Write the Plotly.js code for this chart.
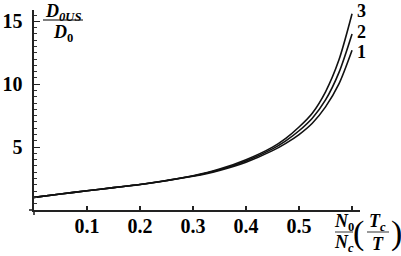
<!DOCTYPE html>
<html><head><meta charset="utf-8">
<script src="https://cdn.plot.ly/plotly-3.0.1.min.js"></script>
<style>html,body{margin:0;padding:0;background:#fff;}#chart{width:401px;height:256px;}</style>
</head><body><div id="chart"></div>
<script>
// Data
var xVals = [0, 0.05, 0.1, 0.15, 0.2, 0.25, 0.3, 0.35, 0.4, 0.45, 0.475, 0.5, 0.525, 0.55, 0.575, 0.6];
var curve1 = [1.0, 1.27, 1.53, 1.78, 2.03, 2.33, 2.68, 3.15, 3.8, 4.72, 5.3, 6.0, 6.9, 8.2, 10.0, 12.7];
var curve2 = [1.0, 1.27, 1.53, 1.78, 2.03, 2.34, 2.7, 3.2, 3.9, 4.86, 5.5, 6.3, 7.3, 8.75, 10.9, 14.0];
var curve3 = [1.0, 1.27, 1.53, 1.78, 2.03, 2.35, 2.72, 3.25, 4.0, 5.0, 5.7, 6.6, 7.7, 9.4, 11.9, 15.6];
var curveNames = ['1', '2', '3'];
var xTicks = [0.1, 0.2, 0.3, 0.4, 0.5, 0.6];
var xTickText = ['0.1', '0.2', '0.3', '0.4', '0.5', ''];
var yTicks = [5, 10, 15];
var yTickText = ['5', '10', '15'];

var W = 401, H = 256, L = 34, R = 41, T = 10, B = 46;
var pw = W - L - R, ph = H - T - B;
function px(x) { return (x - L) / pw; }
function py(y) { return (H - B - y) / ph; }

var serif = 'Liberation Serif';
var line = {color: '#111', width: 1.6, shape: 'spline', smoothing: 0.8};
var traces = [curve1, curve2, curve3].map(function (c, i) {
  return {x: xVals, y: c, mode: 'lines', line: line, name: curveNames[i], hoverinfo: 'skip'};
});

var annotations = [
  {text: '<b>3</b>', x: px(361), y: py(11)},
  {text: '<b>2</b>', x: px(361), y: py(32)},
  {text: '<b>1</b>', x: px(361), y: py(52)},
  {text: '<b><i>D</i><sub><i>0US</i></sub></b>', x: px(63), y: py(12)},
  {text: '<b><i>D</i><sub>0</sub></b>', x: px(63), y: py(33)},
  {text: '<b><i>N</i><sub>0</sub></b>', x: px(344), y: py(222)},
  {text: '<b><i>N</i><sub><i>c</i></sub></b>', x: px(344), y: py(243)},
  {text: '<b><i>T</i><sub><i>c</i></sub></b>', x: px(378), y: py(222)},
  {text: '<b><i>T</i></b>', x: px(378), y: py(244)},
  {text: '(', x: px(358), y: py(233), size: 34},
  {text: ')', x: px(396), y: py(233), size: 34}
].map(function (a) {
  return {text: a.text, x: a.x, y: a.y, xref: 'paper', yref: 'paper', showarrow: false,
    xanchor: 'center', yanchor: 'middle',
    font: {family: serif, size: a.size || 18, color: '#000'}};
});

var shapes = [
  {type: 'line', xref: 'paper', yref: 'paper', x0: px(43), x1: px(83), y0: py(20), y1: py(20), line: {color: '#555', width: 1.5}},
  {type: 'line', xref: 'paper', yref: 'paper', x0: px(335), x1: px(353), y0: py(232), y1: py(232), line: {color: '#555', width: 1.2}},
  {type: 'line', xref: 'paper', yref: 'paper', x0: px(367), x1: px(389), y0: py(232), y1: py(232), line: {color: '#555', width: 1.2}},
  {type: 'line', xref: 'paper', yref: 'paper', x0: px(29), x1: px(34), y0: py(210), y1: py(210), line: {color: '#222', width: 1.6}},
  {type: 'line', xref: 'paper', yref: 'paper', x0: px(34), x1: px(34), y0: py(210), y1: py(215), line: {color: '#222', width: 1.6}}
];

function bold(arr) { return arr.map(function (t) { return t ? '<b>' + t + '</b>' : ''; }); }
var tickFont = {family: serif, size: 20, color: '#000'};
var layout = {
  width: W, height: H,
  margin: {l: L, r: R, t: T, b: B, pad: 0},
  paper_bgcolor: '#fff', plot_bgcolor: '#fff',
  showlegend: false,
  font: {family: serif},
  xaxis: {range: [0, 0.615], showgrid: false, zeroline: false, showline: true, linecolor: '#222', linewidth: 1.6,
    tickmode: 'array', tickvals: xTicks, ticktext: bold(xTickText), ticks: 'inside', ticklen: 4, tickwidth: 1.2, tickcolor: '#222',
    tickfont: tickFont, ticklabelstandoff: -3},
  yaxis: {range: [0, 15.9], showgrid: false, zeroline: false, showline: true, linecolor: '#222', linewidth: 1.6,
    tickmode: 'array', tickvals: yTicks, ticktext: bold(yTickText), ticks: 'inside', ticklen: 6, tickwidth: 1.2, tickcolor: '#222',
    minor: {dtick: 0.5, tick0: 0, ticks: 'inside', ticklen: 3, tickwidth: 1, tickcolor: '#333', showgrid: false},
    tickfont: tickFont, ticklabelstandoff: 6},
  annotations: annotations,
  shapes: shapes
};
Plotly.newPlot('chart', traces, layout, {staticPlot: true, displayModeBar: false});
</script></body></html>
